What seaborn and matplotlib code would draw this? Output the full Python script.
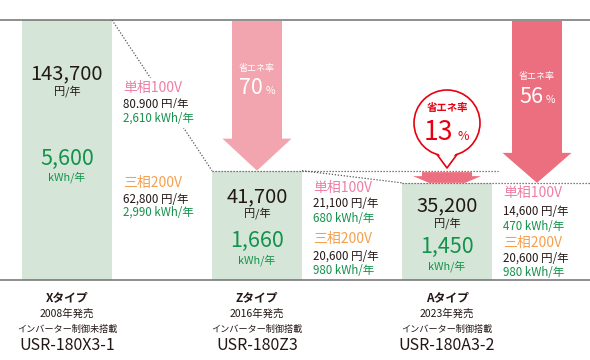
import numpy as np
import pandas as pd
import matplotlib
matplotlib.use("Agg")
import matplotlib.pyplot as plt
from matplotlib.patches import Polygon, Circle
import seaborn as sns

# ---------------- data ----------------
models = ["Xタイプ", "Zタイプ", "Aタイプ"]
release = ["2008年発売", "2016年発売", "2023年発売"]
inverter = ["インバーター制御未搭載", "インバーター制御搭載", "インバーター制御搭載"]
model_codes = ["USR-180X3-1", "USR-180Z3", "USR-180A3-2"]
total_yen = [143700, 41700, 35200]
total_kwh = [5600, 1660, 1450]
single_yen = [80900, 21100, 14600]
single_kwh = [2610, 680, 470]
three_yen = [62800, 20600, 20600]
three_kwh = [2990, 980, 980]
saving_x_to_z = 70
saving_z_to_a = 13
saving_x_to_a = 56

# ---------------- style ----------------
sns.set_theme(style="white")
plt.rcParams["font.family"] = ["Noto Sans CJK JP", "DejaVu Sans"]

BAR = "#d5e6d8"
ARROW_LIGHT = "#f2a5af"
ARROW_DEEP = "#ec6f80"
GREEN = "#12924a"
PINK = "#ef7fa4"
ORANGE = "#f4a04f"
BLACK = "#231815"
RED = "#e60012"
DOT = "#555555"

W, H = 590, 360
fig = plt.figure(figsize=(W / 100, H / 100), dpi=100, facecolor="white")
ax = fig.add_axes([0, 80 / H, 1, 260 / H])

bw = 90 / 190
df = pd.DataFrame({"model": models, "yen": total_yen})
sns.barplot(data=df, x="model", y="yen", color=BAR, saturation=1, width=bw,
            linewidth=0, ax=ax)

p = 0.7
ax.set_yscale("function", functions=(lambda v: np.power(np.clip(v, 0, None), p),
                                     lambda v: np.power(np.clip(v, 0, None), 1 / p)))
ax.set_ylim(0, max(total_yen))
xr = (W - 67) / 190
ax.set_xlim(-67 / 190, xr)
ax.set_xticks([])
ax.set_yticks([])
ax.set_xlabel("")
ax.set_ylabel("")
ax.minorticks_off()
for s in ["left", "right"]:
    ax.spines[s].set_visible(False)
for s in ["top", "bottom"]:
    ax.spines[s].set_color("#707070")
    ax.spines[s].set_linewidth(1.1)

dot = dict(color=DOT, lw=0.9, ls=(0, (1, 1.4)), zorder=3)
ax.plot([0 + bw / 2, 1 - bw / 2], [total_yen[0], total_yen[1]], **dot)
ax.plot([1 - bw / 2, 2 + bw / 2 + 0.03], [total_yen[1], total_yen[1]], **dot)
ax.plot([1 + bw / 2, 2 - bw / 2], [total_yen[1], total_yen[2]], **dot)
ax.plot([2 - bw / 2, xr], [total_yen[2], total_yen[2]], **dot)

# ---------------- overlay in pixel coordinates ----------------
ov = fig.add_axes([0, 0, 1, 1], facecolor="none")
ov.set_xlim(0, W)
ov.set_ylim(H, 0)
ov.axis("off")


def to_img(x, y):
    d = ax.transData.transform((x, y))
    return d[0], H - d[1]


cx = [to_img(i, 0)[0] for i in range(3)]
tops = [to_img(i, total_yen[i])[1] for i in range(3)]
right = [to_img(i + bw / 2, 0)[0] for i in range(3)]
top_line = to_img(0, max(total_yen))[1]


def down_arrow(x, y0, tip, color, sw=50, hw=69, hh=32):
    hy = tip - hh
    pts = [(x - sw / 2, y0), (x + sw / 2, y0), (x + sw / 2, hy), (x + hw / 2, hy),
           (x, tip), (x - hw / 2, hy), (x - sw / 2, hy)]
    ov.add_patch(Polygon(pts, closed=True, fc=color, ec="none", zorder=2))


# big arrows
down_arrow(cx[1], top_line + 1, tops[1], ARROW_LIGHT)
a2x = cx[2] + 90
down_arrow(a2x, top_line + 1, tops[2], ARROW_DEEP, hh=30)

for ax_x, ylab, ynum, val in [(cx[1], 68, 88, saving_x_to_z), (a2x, 76, 97, saving_x_to_a)]:
    ov.text(ax_x, ylab, "省エネ率", color="white", fontsize=6.5, ha="center", va="center", zorder=5)
    ov.text(ax_x + 6, ynum, f"{val}", color="white", fontsize=15.5, ha="right", va="center", zorder=5)
    ov.text(ax_x + 9, ynum + 3, "%", color="white", fontsize=7.5, ha="left", va="center", zorder=5)

# small arrow between Z and A levels
sx = cx[2]
ys, ym, ye = tops[1] + 1.5, tops[1] + 5.5, tops[2]
ov.add_patch(Polygon([(sx - 25, ys), (sx + 25, ys), (sx + 25, ym), (sx + 34, ym),
                      (sx + 18, ye), (sx - 18, ye), (sx - 34, ym), (sx - 25, ym)],
                     closed=True, fc=ARROW_DEEP, ec="none", zorder=2))

# speech bubble
bcx, bcy, r = sx, 123, 33
ov.add_patch(Circle((bcx, bcy), r, fc="white", ec=RED, lw=1.2, zorder=4))
dy = np.sqrt(r ** 2 - 10 ** 2)
tip_y = 168
ov.add_patch(Polygon([(bcx - 9.3, bcy + dy - 2), (bcx, tip_y - 1), (bcx + 9.3, bcy + dy - 2)],
                     closed=True, fc="white", ec="none", zorder=4.5))
ov.plot([bcx - 10, bcx, bcx + 10], [bcy + dy, tip_y, bcy + dy], color=RED, lw=1.2, zorder=4.6)
ov.text(bcx, 108, "省エネ率", color=RED, fontsize=7.5, fontweight="bold", ha="center", va="center", zorder=5)
ov.text(bcx + 6, 132, f"{saving_z_to_a}", color=RED, fontsize=19, ha="right", va="center", zorder=5)
ov.text(bcx + 10, 136, "%", color=RED, fontsize=9, ha="left", va="center", zorder=5)

# texts inside bars
bar_ys = [(74, 91, 159, 177), (197, 213, 241, 260), (206, 223, 247, 266)]
for i in range(3):
    y1, y2, y3, y4 = bar_ys[i]
    ov.text(cx[i], y1, f"{total_yen[i]:,}", color=BLACK, fontsize=14.5, ha="center", va="center", zorder=5)
    ov.text(cx[i], y2, "円/年", color=BLACK, fontsize=8, ha="center", va="center", zorder=5)
    ov.text(cx[i], y3, f"{total_kwh[i]:,}", color=GREEN, fontsize=15.5, ha="center", va="center", zorder=5)
    ov.text(cx[i], y4, "kWh/年", color=GREEN, fontsize=7.8, ha="center", va="center", zorder=5)

# side texts
side_ys = [(88, 104, 118, 183, 199, 212), (188, 203, 219, 239, 256, 270), (193, 211, 226, 243, 258, 273)]
for i in range(3):
    sxp = right[i] + 11
    ys6 = side_ys[i]
    bb = dict(fc="white", ec="none", pad=2.5) if i == 0 else None
    ov.text(sxp, ys6[0], "単相100V", color=PINK, fontsize=10, ha="left", va="center", zorder=5, bbox=bb)
    ov.text(sxp, ys6[1], f"{single_yen[i]:,} 円/年", color=BLACK, fontsize=8.3, ha="left", va="center", zorder=5, bbox=bb)
    ov.text(sxp, ys6[2], f"{single_kwh[i]:,} kWh/年", color=GREEN, fontsize=8.3, ha="left", va="center", zorder=5, bbox=bb)
    ov.text(sxp, ys6[3], "三相200V", color=ORANGE, fontsize=10, ha="left", va="center", zorder=5)
    ov.text(sxp, ys6[4], f"{three_yen[i]:,} 円/年", color=BLACK, fontsize=8.3, ha="left", va="center", zorder=5)
    ov.text(sxp, ys6[5], f"{three_kwh[i]:,} kWh/年", color=GREEN, fontsize=8.3, ha="left", va="center", zorder=5)

# bottom labels
for i in range(3):
    ov.text(cx[i], 298, models[i], color=BLACK, fontsize=8.5, fontweight="bold", ha="center", va="center")
    ov.text(cx[i], 314, release[i], color=BLACK, fontsize=7.5, ha="center", va="center")
    ov.text(cx[i], 329, inverter[i], color=BLACK, fontsize=6.6, ha="center", va="center")
    ov.text(cx[i], 346, model_codes[i], color=BLACK, fontsize=11.5, ha="center", va="center")

fig.savefig("out.png", dpi=100, facecolor="white")
